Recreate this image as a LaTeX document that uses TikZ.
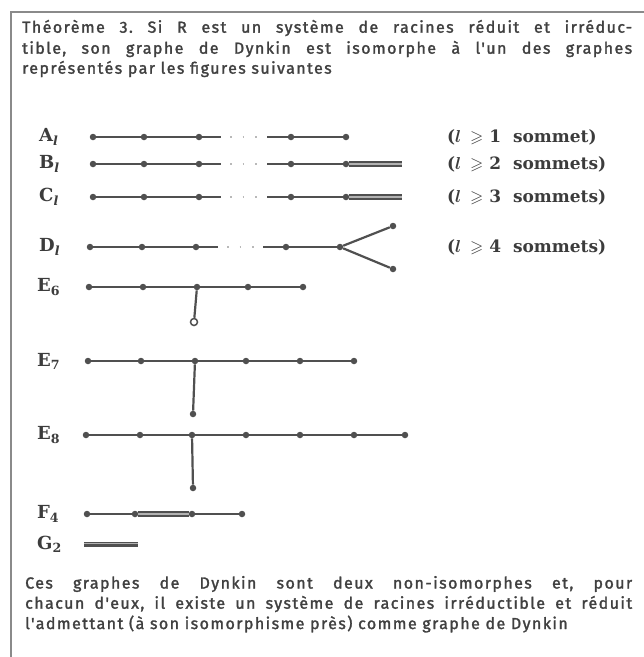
\documentclass[tikz,border=0pt]{standalone}
\usepackage{amssymb}
\usepackage{fontspec}
\setmainfont{Fira Sans}
\newfontfamily\bodyfont{Fira Sans}[FakeBold=1.7,LetterSpace=9]
\newfontfamily\lblfont{DejaVu Serif}[BoldFont={DejaVu Serif Bold}]
\definecolor{ink}{HTML}{505050}
\definecolor{framec}{HTML}{8A8A8A}
\frenchspacing
\begin{document}
\begin{tikzpicture}[x=1pt,y=-1pt,
  vx/.style={circle,fill=ink,inner sep=0pt,minimum size=6.5pt},
  ovx/.style={circle,draw=ink,line width=1.5pt,fill=white,inner sep=0pt,minimum size=7pt},
  bond/.style={draw=ink,line width=2.2pt},
  dbond/.style={draw=ink,line width=2pt,double=gray!60,double distance=1.6pt},
  tbond/.style={draw=ink,line width=1.6pt,double=gray!60,double distance=1.8pt},
  gap/.style={draw=gray!55,line width=1.4pt,dash pattern=on 1.5pt off 11pt},
  lbl/.style={anchor=west,inner sep=0pt,font=\lblfont\bfseries\boldmath\fontsize{18}{20}\selectfont,text=ink!75!black},
  rng/.style={anchor=west,inner sep=0pt,font=\lblfont\bfseries\boldmath\fontsize{17}{20}\selectfont,text=ink!75!black},
  body/.style={anchor=west,inner sep=0pt,font=\frenchspacing\bodyfont\fontsize{16}{20}\selectfont,text=ink!80!black}
]
\useasboundingbox (0,0) rectangle (644,657);
% frame
\draw[framec,line width=2.6pt] (644,12) -- (11,12) -- (11,657);
% top text
\node[body] (t1) at (22,28) {\makebox[610pt][s]{Théorème 3. Si R est un système de racines réduit et irréduc-}};
\node[body] (t2) at (22,49) {\makebox[610pt][s]{tible, son graphe de Dynkin est isomorphe à l'un des graphes}};
\node[body] (t3) at (22,69) {représentés par les figures suivantes};
% ---- A_l
\node[lbl] (lA) at (39,137) {A\textsubscript{\itshape l}};
\foreach \i/\x in {1/93,2/144,3/199,4/291,5/346} \node[vx] (a\i) at (\x,137) {};
\coordinate (a3r) at (221,137); \coordinate (a4l) at (267,137);
\draw[bond] (a1) -- (a2) -- (a3) -- (a3r);
\draw[bond] (a4l) -- (a4) -- (a5);
\draw[gap] (a3r) ++(9,0) -- (a4l);
\node[rng] (rA) at (447,137) {($l\,\geqslant$ 1\ \ sommet)};
% ---- B_l
\node[lbl] (lB) at (39,164) {B\textsubscript{\itshape l}};
\foreach \i/\x in {1/93,2/144,3/199,4/291,5/346} \node[vx] (b\i) at (\x,164) {};
\coordinate (b6) at (402,164);
\coordinate (b3r) at (221,164); \coordinate (b4l) at (267,164);
\draw[bond] (b1) -- (b2) -- (b3) -- (b3r);
\draw[bond] (b4l) -- (b4) -- (b5);
\draw[dbond] (b5) -- (b6);
\draw[gap] (b3r) ++(9,0) -- (b4l);
\node[rng] (rB) at (447,164) {($l\,\geqslant$ 2\ \ sommets)};
% ---- C_l
\node[lbl] (lC) at (39,197) {C\textsubscript{\itshape l}};
\foreach \i/\x in {1/93,2/144,3/199,4/291,5/346} \node[vx] (c\i) at (\x,197) {};
\coordinate (c6) at (402,197);
\coordinate (c3r) at (221,197); \coordinate (c4l) at (267,197);
\draw[bond] (c1) -- (c2) -- (c3) -- (c3r);
\draw[bond] (c4l) -- (c4) -- (c5);
\draw[dbond] (c5) -- (c6);
\draw[gap] (c3r) ++(9,0) -- (c4l);
\node[rng] (rC) at (447,197) {($l\,\geqslant$ 3\ \ sommets)};
% ---- D_l
\node[lbl] (lD) at (39,247) {D\textsubscript{\itshape l}};
\foreach \i/\x in {1/90,2/142,3/196,4/286,5/340} \node[vx] (d\i) at (\x,247) {};
\node[vx] (d6) at (393,226) {};
\node[vx] (d7) at (393,269) {};
\coordinate (d3r) at (218,247); \coordinate (d4l) at (263,247);
\draw[bond] (d1) -- (d2) -- (d3) -- (d3r);
\draw[bond] (d4l) -- (d4) -- (d5);
\draw[bond] (d5) -- (d6);
\draw[bond] (d5) -- (d7);
\draw[gap] (d3r) ++(9,0) -- (d4l);
\node[rng] (rD) at (447,247) {($l\,\geqslant$ 4\ \ sommets)};
% ---- E6
\node[lbl] (lE6) at (37,287) {E\textsubscript{6}};
\foreach \i/\x in {1/89,2/143,3/197,4/248,5/303} \node[vx] (e\i) at (\x,287) {};
\node[ovx] (e6) at (194,322) {};
\draw[bond] (e1) -- (e2) -- (e3) -- (e4) -- (e5);
\draw[bond] (e3) -- (e6);
% ---- E7
\node[lbl] (lE7) at (37,361) {E\textsubscript{7}};
\foreach \i/\x in {1/88,2/141,3/195,4/246,5/300,6/354} \node[vx] (f\i) at (\x,361) {};
\node[vx] (f7) at (193,414) {};
\draw[bond] (f1) -- (f2) -- (f3) -- (f4) -- (f5) -- (f6);
\draw[bond] (f3) -- (f7);
% ---- E8
\node[lbl] (lE8) at (37,435) {E\textsubscript{8}};
\foreach \i/\x in {1/86,2/140,3/192,4/246,5/300,6/354,7/405} \node[vx] (g\i) at (\x,435) {};
\node[vx] (g8) at (193,488) {};
\draw[bond] (g1) -- (g2) -- (g3) -- (g4) -- (g5) -- (g6) -- (g7);
\draw[bond] (g3) -- (g8);
% ---- F4
\node[lbl] (lF) at (37,514) {F\textsubscript{4}};
\foreach \i/\x in {1/87,2/135,3/192,4/242} \node[vx] (h\i) at (\x,514) {};
\draw[bond] (h1) -- (h2);
\draw[dbond] (h2) -- (h3);
\draw[bond] (h3) -- (h4);
% ---- G2
\node[lbl] (lG) at (37,544) {G\textsubscript{2}};
\coordinate (k1) at (84,544); \coordinate (k2) at (138,544);
\draw[tbond] (k1) -- (k2);
\draw[draw=ink,line width=1pt] (k1) -- (k2);
% bottom text
\node[body] (u1) at (25,584) {\makebox[607pt][s]{Ces graphes de Dynkin sont deux non-isomorphes et, pour}};
\node[body] (u2) at (25,604) {\makebox[607pt][s]{chacun d'eux, il existe un système de racines irréductible et réduit}};
\node[body] (u3) at (25,624) {l'admettant (à son isomorphisme près) comme graphe de Dynkin};
\end{tikzpicture}
\end{document}
